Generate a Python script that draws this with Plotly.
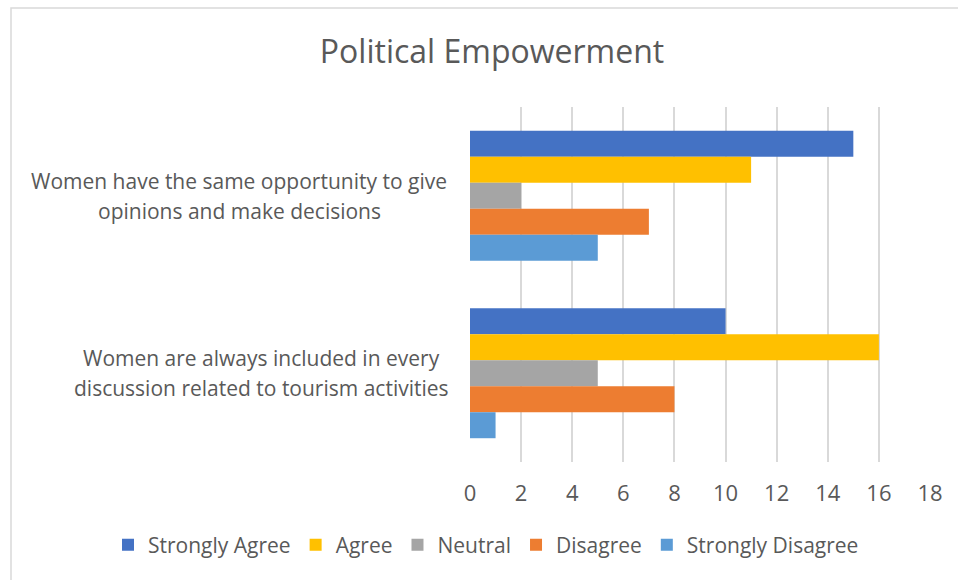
import plotly.graph_objects as go

categories = [
    "Women have the same opportunity to give<br>opinions and make decisions",
    "Women are always included in every<br>discussion related to tourism activities",
]
series_names = ["Strongly Agree", "Agree", "Neutral", "Disagree", "Strongly Disagree"]
series_values = {
    "Strongly Agree": [15, 10],
    "Agree": [11, 16],
    "Neutral": [2, 5],
    "Disagree": [7, 8],
    "Strongly Disagree": [5, 1],
}
colors = ["#4472C4", "#FFC000", "#A5A5A5", "#ED7D31", "#5B9BD5"]
x_ticks = [0, 2, 4, 6, 8, 10, 12, 14, 16, 18]

W, H = 958, 580
L, R, T, B = 470, 28, 107, 118
pw, ph = W - L - R, H - T - B
txt = "#595959"
font = "Open Sans"
label_centres_px = [239, 261]  # horizontal centre of each wrapped label block

fig = go.Figure()
for name, col in zip(series_names, colors):
    fig.add_trace(go.Bar(
        y=categories, x=series_values[name], name=name, orientation="h",
        marker=dict(color=col, line=dict(width=0)),
    ))

# category labels, centred lines with Office-like line spacing
for c, cx in zip(categories, label_centres_px):
    lines = c.split("<br>")
    n = len(lines)
    for i, line in enumerate(lines):
        fig.add_annotation(
            x=(cx - L) / pw, xref="paper", y=c, yref="y",
            text=line, showarrow=False, xanchor="center", yanchor="middle",
            yshift=((n - 1) / 2 - i) * 30,
            font=dict(family=font, size=21, color=txt),
        )

fig.update_layout(
    width=W, height=H,
    margin=dict(l=L, r=R, t=T, b=B),
    paper_bgcolor="white", plot_bgcolor="white",
    barmode="group", bargap=0.268, bargroupgap=0,
    title=dict(text="Political Empowerment", x=492 / W, xanchor="center",
               y=1 - 52 / H, yanchor="middle", yref="container",
               font=dict(family=font, size=32, color=txt)),
    xaxis=dict(range=[0, 18], tickvals=x_ticks, showgrid=True,
               gridcolor="#D9D9D9", gridwidth=1.5, zeroline=False,
               showline=False, ticks="", ticklabelstandoff=16,
               tickfont=dict(family=font, size=22, color=txt)),
    yaxis=dict(autorange="reversed", showticklabels=False, showgrid=False,
               zeroline=False, showline=False, ticks=""),
    legend=dict(orientation="h", x=(108 - L) / pw, xanchor="left",
                y=(462 - 545) / ph, yanchor="middle",
                font=dict(family=font, size=21, color=txt),
                traceorder="normal", itemwidth=30),
    showlegend=True,
)

# outer chart border
fig.add_shape(
    type="rect", xref="paper", yref="paper",
    x0=(11 - L) / pw, x1=(965 - L) / pw,
    y0=((H - B) - 590) / ph, y1=((H - B) - 8) / ph,
    line=dict(color="#D9D9D9", width=1.5), fillcolor="rgba(0,0,0,0)", layer="below",
)

fig.write_html("out.html", config={"displayModeBar": False},
               post_script="document.body.style.margin='0px';document.body.style.overflow='hidden';")
